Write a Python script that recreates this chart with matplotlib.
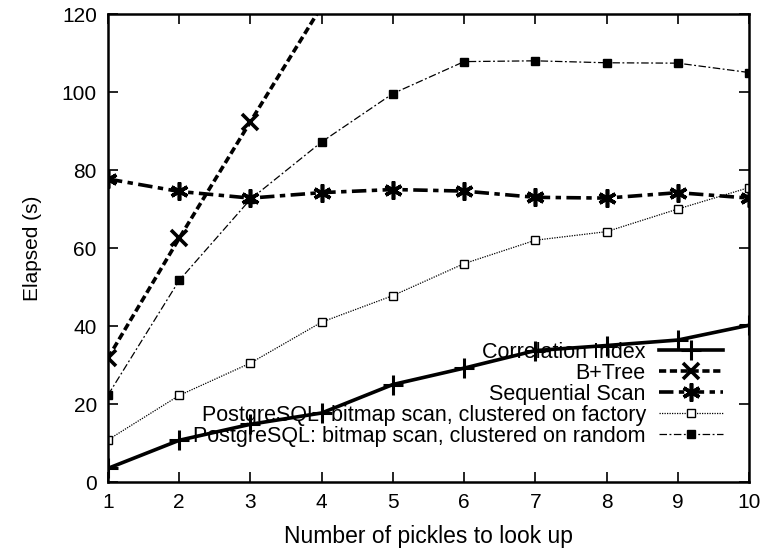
import matplotlib
matplotlib.use("Agg")
import matplotlib.pyplot as plt

plt.rcParams['font.family'] = ['Liberation Sans', 'DejaVu Sans']

# data
pickles = [1, 2, 3, 4, 5, 6, 7, 8, 9, 10]
corr_index = [3.5, 10.7, 14.8, 17.7, 25.0, 29.2, 33.7, 35.0, 36.4, 40.2]
btree_x = [1, 2, 3, 4]
btree = [31.8, 62.5, 92.4, 122.0]
seq_scan = [77.7, 74.5, 72.8, 74.2, 75.0, 74.6, 73.0, 72.8, 74.2, 72.8]
pg_factory = [10.8, 22.2, 30.5, 41.0, 47.8, 56.0, 62.0, 64.2, 70.0, 75.5]
pg_random = [22.3, 51.7, 72.5, 87.2, 99.6, 107.8, 108.0, 107.5, 107.4, 105.0]

fig = plt.figure(figsize=(7.62, 5.52), dpi=100)
ax = fig.add_axes([0.1417, 0.1268, 0.8413, 0.8478])

ax.plot(pickles, corr_index, color='black', lw=2.6, ls='-', marker='+',
        ms=14, mew=2.2, label='Correlation Index')
ax.plot(btree_x, btree, color='black', lw=2.6, ls=(0, (2, 1)), marker='x',
        ms=12, mew=2.6, label='B+Tree')
ax.plot(pickles, seq_scan, color='black', lw=2.6, ls=(0, (4, 1.5, 1.5, 1.5)),
        marker=(6, 2, 0), ms=13, mew=2.6, label='Sequential Scan')
ax.plot(pickles, pg_factory, color='black', lw=0.9, ls=(0, (1, 1)), marker='s',
        ms=6, mfc='white', mew=1.0,
        label='PostgreSQL: bitmap scan, clustered on factory')
ax.plot(pickles, pg_random, color='black', lw=0.9, ls=(0, (6, 2, 1.5, 2)),
        marker='s', ms=6, mfc='black', mew=1.0,
        label='PostgreSQL: bitmap scan, clustered on random')

ax.set_xlim(1, 10)
ax.set_ylim(0, 120)
ax.set_xticks(pickles)
ax.set_yticks([0, 20, 40, 60, 80, 100, 120])
ax.tick_params(direction='in', top=True, right=True, length=7, width=1.2,
               labelsize=15, pad=8)
for s in ax.spines.values():
    s.set_linewidth(1.8)

ax.set_xlabel('Number of pickles to look up', fontsize=16.5, labelpad=9)
ax.set_ylabel('Elapsed (s)', fontsize=15, labelpad=14)

ax.legend(loc='lower right', bbox_to_anchor=(0.98, 0.048), frameon=False,
          markerfirst=False, fontsize=15.5, handlelength=3.0,
          labelspacing=0.0, handletextpad=0.6, borderaxespad=0.2)

fig.savefig('out.png', dpi=100)
